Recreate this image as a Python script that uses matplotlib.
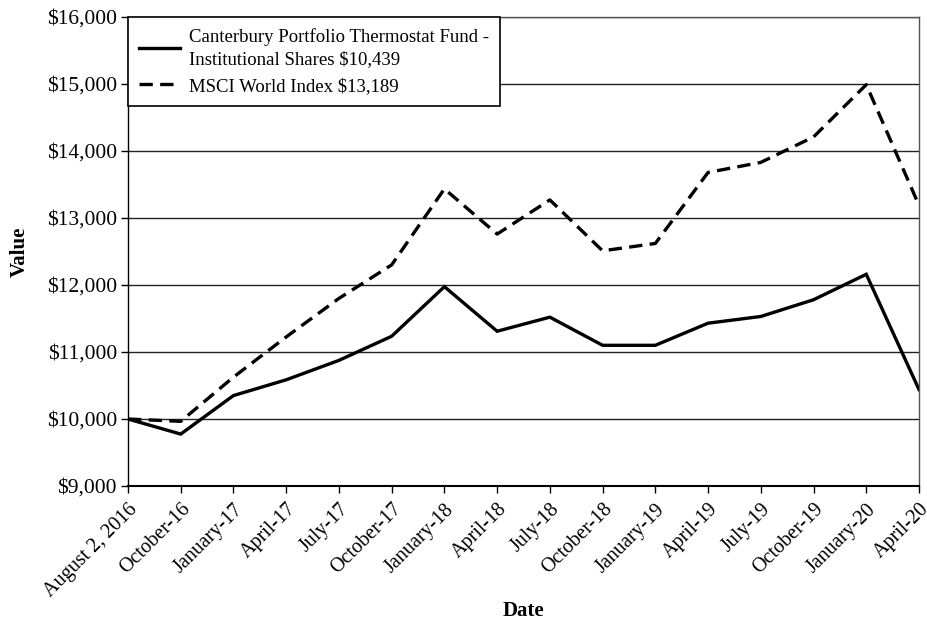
import matplotlib
matplotlib.use("Agg")
import matplotlib.pyplot as plt
from matplotlib.ticker import FuncFormatter

dates = ["August 2, 2016", "October-16", "January-17", "April-17", "July-17",
         "October-17", "January-18", "April-18", "July-18", "October-18",
         "January-19", "April-19", "July-19", "October-19", "January-20", "April-20"]
fund = [10000, 9775, 10350, 10585, 10875, 11235, 11975, 11310, 11520, 11100,
        11100, 11430, 11530, 11780, 12160, 10439]
msci = [10000, 9965, 10625, 11225, 11800, 12300, 13435, 12760, 13270, 12510,
        12620, 13680, 13830, 14210, 14990, 13189]
fund_label = "Canterbury Portfolio Thermostat Fund -\nInstitutional Shares $10,439"
msci_label = "MSCI World Index $13,189"
yticks = [9000, 10000, 11000, 12000, 13000, 14000, 15000, 16000]

plt.rcParams['font.family'] = ['Liberation Serif', 'DejaVu Serif']

fig = plt.figure(figsize=(9.28, 6.24), dpi=100)
ax = fig.add_axes([128/928, 1-486/624, (919-128)/928, (486-17)/624])

x = list(range(len(dates)))
ax.plot(x, fund, color='black', lw=2.4, solid_joinstyle='miter', label=fund_label)
ax.plot(x, msci, color='black', lw=2.4, dashes=(4.0, 2.2), label=msci_label)

ax.set_xlim(0, len(dates)-1)
ax.set_ylim(9000, 16000)
ax.set_yticks(yticks)
ax.yaxis.set_major_formatter(FuncFormatter(lambda v, p: "${:,.0f}".format(v)))
ax.set_xticks(x)
ax.set_xticklabels(dates, rotation=45, ha='right', va='top', rotation_mode='anchor')
ax.tick_params(axis='both', direction='out', length=5, width=1, color='black')
ax.tick_params(axis='y', labelsize=15.5, pad=3)
ax.tick_params(axis='x', labelsize=14.5, pad=5)
ax.grid(axis='y', color='#222222', lw=1)
ax.set_axisbelow(True)
for s in ax.spines.values():
    s.set_color('#555555')
    s.set_linewidth(1)
ax.spines['left'].set_color('black')
ax.spines['bottom'].set_color('black')
ax.spines['bottom'].set_linewidth(1.5)

ax.set_ylabel("Value", fontsize=15, fontweight='bold', labelpad=12)
ax.set_xlabel("Date", fontsize=15, fontweight='bold', labelpad=0)

leg = ax.legend(loc='upper left', bbox_to_anchor=(0, 1), borderaxespad=0, fontsize=13.5,
                frameon=True, fancybox=False, handlelength=2.2, handletextpad=0.45,
                labelspacing=0.5, borderpad=0.6)
leg.get_texts()[0].set_linespacing(1.4)
leg.get_frame().set_edgecolor('black')
leg.get_frame().set_linewidth(1.2)
leg.get_frame().set_alpha(1)

fig.savefig("out.png", dpi=100)
